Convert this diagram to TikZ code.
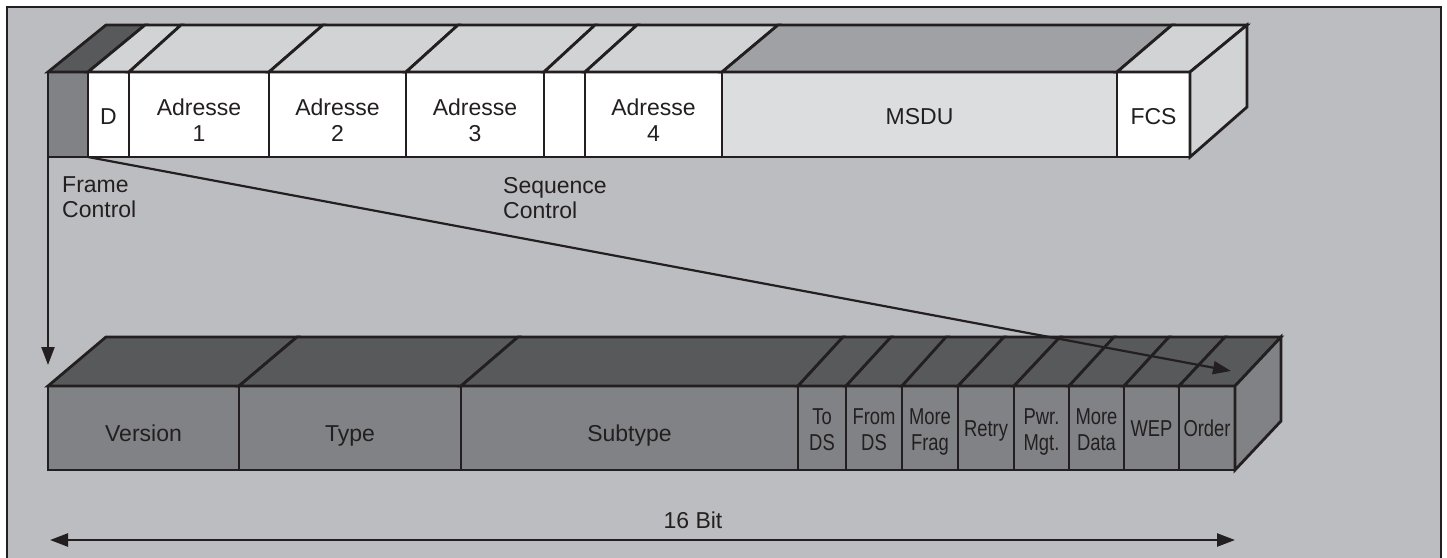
\documentclass[tikz,border=0pt]{standalone}
\usepackage{fontspec}
\setmainfont{Liberation Sans}
\newfontfamily\condfont[FakeStretch=0.8]{Liberation Sans}
\usetikzlibrary{arrows.meta}

\definecolor{ink}{RGB}{35,31,32}
\definecolor{bg}{RGB}{188,189,192}
\definecolor{light}{RGB}{209,211,212}
\definecolor{msdufront}{RGB}{220,221,223}
\definecolor{msdutop}{RGB}{160,161,164}
\definecolor{dark}{RGB}{88,89,91}
\definecolor{mid}{RGB}{128,130,133}

\tikzset{
  cell/.style={draw=ink, line width=2.8pt, inner sep=0pt, outer sep=0pt,
    anchor=north west, line join=miter},
  face/.style={draw=ink, line width=2.8pt, line join=miter},
  lbl/.style={text=ink, inner sep=0pt, align=center, anchor=base,
    font=\fontsize{23}{26.5}\selectfont},
  lowlbl/.style={lbl, font=\fontsize{23}{25.5}\selectfont},
  narrow/.style={lbl, font=\condfont\fontsize{23}{25.5}\selectfont},
  note/.style={text=ink, inner sep=0pt, align=left, anchor=base west,
    font=\fontsize{23}{25}\selectfont},
  arr/.style={draw=ink, line width=2.2pt, -{Triangle[length=18pt,width=13pt]}},
  dblarr/.style={draw=ink, line width=2.4pt,
    {Triangle[length=18pt,width=13pt]}-{Triangle[length=18pt,width=13pt]}}
}

\begin{document}
\begin{tikzpicture}[x=1pt,y=-1pt]
\useasboundingbox (0,0) rectangle (1447,557);
\fill[white] (0,0) rectangle (1447,557);
\draw[draw=ink, line width=2.6pt, fill=bg] (7,7) rectangle (1441,600);

% MAC frame (upper bar): front faces and top faces
\foreach \n/\xa/\xb/\fr/\tp/\dl/\dr in {
    fc/48/88/mid/dark/58/57,
    d/88/129/white/light/57/52,
    a1/129/269/white/light/52/54,
    a2/269/406/white/light/54/52,
    a3/406/544/white/light/52/51,
    sc/544/585/white/light/51/52,
    a4/585/722/white/light/52/56,
    msdu/722/1117/msdufront/msdutop/56/55,
    fcs/1117/1190/white/light/55/57} {
  \node[cell, fill=\fr, minimum width={(\xb-\xa)*1pt}, minimum height=85pt]
    (\n) at (\xa,72) {};
  \filldraw[face, fill=\tp] (\n.north west) -- ++(\dl,-47)
    -- ([shift={(\dr,-47)}]\n.north east) -- (\n.north east) -- cycle;
}
\filldraw[face, fill=light] (fcs.north east) -- ++(57,-47) -- ++(0,82)
  -- (fcs.south east) -- cycle;

% single-line labels sit on their baseline, two-line ones on the last line's
\node[lbl] at ([yshift=-9.5pt]d.center) {D};
\node[lbl] at ([yshift=-27.2pt]a1.center) {Adresse\\1};
\node[lbl] at ([yshift=-27.2pt]a2.center) {Adresse\\2};
\node[lbl] at ([yshift=-27.2pt]a3.center) {Adresse\\3};
\node[lbl] at ([yshift=-27.2pt]a4.center) {Adresse\\4};
\node[lbl] at ([yshift=-9.5pt]msdu.center) {MSDU};
\node[lbl] at ([yshift=-9.5pt]fcs.center) {FCS};

\node[note] (fclabel) at (62,217) {Frame\\Control};
\node[note] (sclabel) at (503,218) {Sequence\\Control};

% Frame Control field (lower bar)
\foreach \n/\xa/\xb/\dl/\dr in {
    ver/48/239/58/58,
    typ/239/461/58/57,
    sub/461/798/57/45,
    tods/798/846/45/45,
    fromds/846/902/45/45,
    frag/902/958/44/46,
    retry/958/1014/46/46,
    pwr/1014/1069/46/45,
    mdata/1069/1124/45/45,
    wep/1124/1179/45/46,
    order/1179/1235/46/46} {
  \node[cell, fill=mid, minimum width={(\xb-\xa)*1pt}, minimum height=84pt]
    (\n) at (\xa,386) {};
  \filldraw[face, fill=dark] (\n.north west) -- ++(\dl,-49)
    -- ([shift={(\dr,-49)}]\n.north east) -- (\n.north east) -- cycle;
}
\filldraw[face, fill=mid] (order.north east) -- ++(46,-49) -- ++(0,84)
  -- (order.south east) -- cycle;

\node[lowlbl] at ([yshift=-13.7pt]ver.center) {Version};
\node[lowlbl] at ([yshift=-13.7pt]typ.center) {Type};
\node[lowlbl] at ([yshift=-13.7pt]sub.center) {Subtype};
\node[narrow] at ([yshift=-22pt]tods.center) {To\\DS};
\node[narrow] at ([yshift=-22pt]fromds.center) {From\\DS};
\node[narrow] at ([yshift=-22pt]frag.center) {More\\Frag};
\node[narrow] at ([yshift=-8.7pt]retry.center) {Retry};
\node[narrow] at ([yshift=-22pt]pwr.center) {Pwr.\\Mgt.};
\node[narrow] at ([yshift=-22pt]mdata.center) {More\\Data};
\node[narrow] at ([yshift=-8.7pt]wep.center) {WEP};
\node[narrow] at ([yshift=-8.7pt]order.center) {Order};

% connectors
\coordinate (fcend) at (48,365);
\coordinate (scend) at (1231,371);
\draw[arr] (fc.south west) -- (fcend);
\draw[arr] (fc.south east) -- (scend);

\coordinate (bitl) at (50,540);
\coordinate (bitr) at (1235,540);
\draw[dblarr] (bitl) -- (bitr);
\node[lbl] (bits) at (693,528) {16 Bit};
\end{tikzpicture}
\end{document}
